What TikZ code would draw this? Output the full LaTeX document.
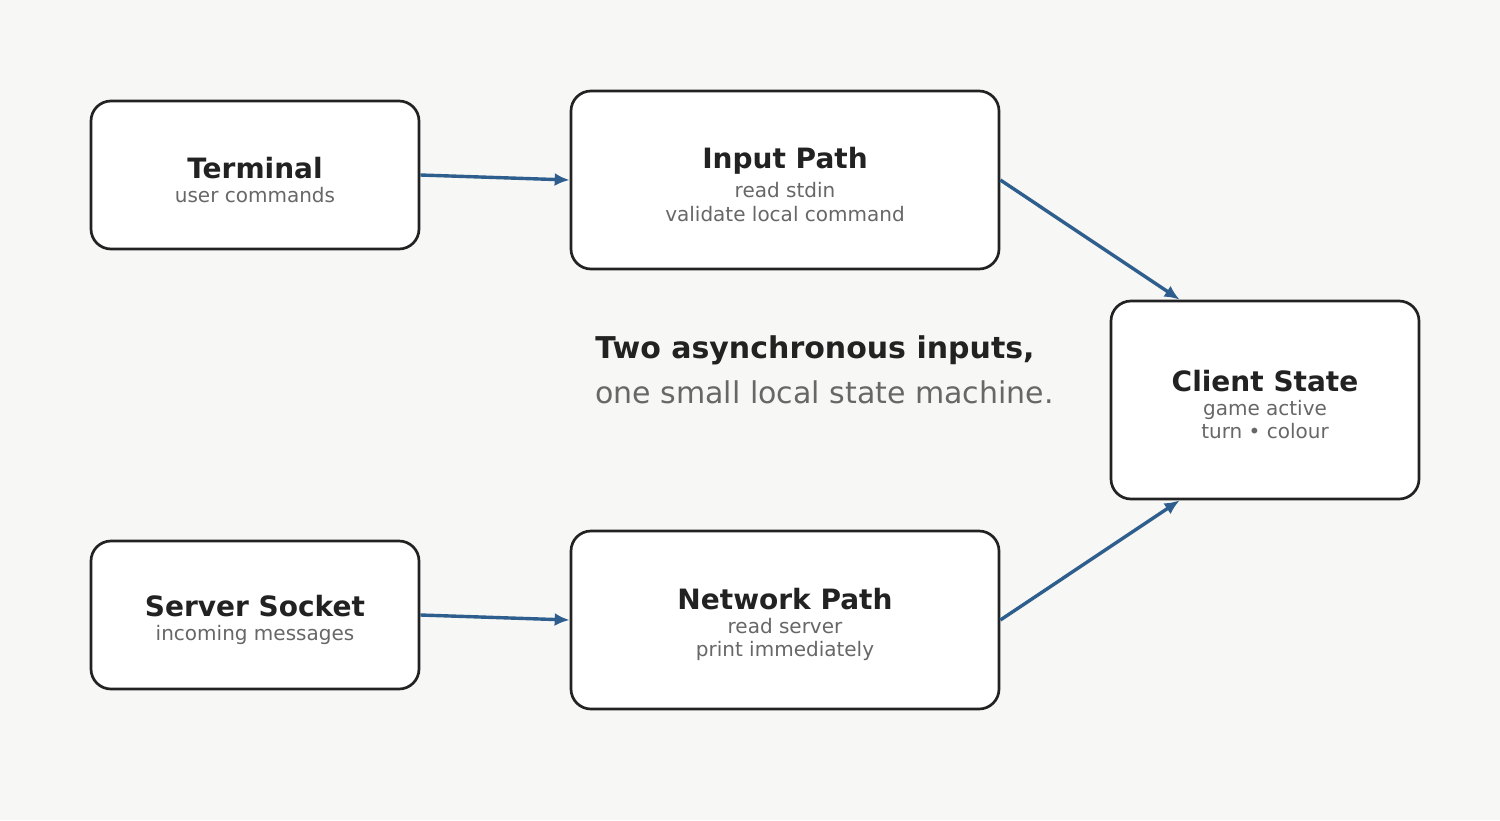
\documentclass[tikz,border=0pt]{standalone}
\usepackage{fontspec}
\setmainfont{DejaVu Sans}
\usetikzlibrary{arrows.meta}
\definecolor{bg}{HTML}{F7F7F5}
\definecolor{ink}{HTML}{222222}
\definecolor{sub}{HTML}{676767}
\definecolor{arr}{HTML}{2E5E8E}
\tikzset{
  box/.style={draw=ink, fill=white, line width=1.35pt, rounded corners=10pt, inner sep=0pt},
  ttl/.style={anchor=base, text=ink, font=\fontsize{14}{16}\selectfont\bfseries, inner sep=0pt},
  subt/.style={anchor=base, text=sub, font=\fontsize{10}{12}\selectfont, inner sep=0pt},
  flow/.style={draw=arr, line width=1.7pt, -{Latex[length=7.5pt,width=6.5pt]}}
}
\begin{document}
\begin{tikzpicture}[x=0.5pt,y=-0.5pt]
\fill[bg] (0,0) rectangle (1500,820);
\useasboundingbox (0,0) rectangle (1500,820);

\node[box, minimum width=164pt, minimum height=74pt] (term) at (255,175) {};
\node[box, minimum width=214pt, minimum height=89pt] (inp) at (785,180) {};
\node[box, minimum width=154pt, minimum height=99pt] (cs) at (1265,400) {};
\node[box, minimum width=164pt, minimum height=74pt] (srv) at (255,615) {};
\node[box, minimum width=214pt, minimum height=89pt] (net) at (785,620) {};

\node[ttl] (termT) at (255,178) {Terminal};
\node[subt] (termS) at (255,202) {user commands};

\node[ttl] (inpT) at (785,168) {Input Path};
\node[subt] (inpS1) at (785,197) {read stdin};
\node[subt] (inpS2) at (785,221) {validate local command};

\node[ttl] (csT) at (1265,391) {Client State};
\node[subt] (csS1) at (1265,415) {game active};
\node[subt] (csS2) at (1265,438) {turn • colour};

\node[ttl] (srvT) at (255,616) {Server Socket};
\node[subt] (srvS) at (255,640) {incoming messages};

\node[ttl] (netT) at (785,609) {Network Path};
\node[subt] (netS1) at (785,633) {read server};
\node[subt] (netS2) at (785,656) {print immediately};

\node[anchor=base west, inner sep=0pt, text=ink, font=\fontsize{15}{18}\selectfont\bfseries] (cap1) at (595,358) {Two asynchronous inputs,};
\node[anchor=base west, inner sep=0pt, text=sub, font=\fontsize{15}{18}\selectfont] (cap2) at (595,403) {one small local state machine.};

\draw[flow] (term.east) -- (inp.west);
\draw[flow] (srv.east) -- (net.west);
\draw[flow] (inp.east) -- ([xshift=35pt]cs.north west);
\draw[flow] (net.east) -- ([xshift=35pt]cs.south west);
\end{tikzpicture}
\end{document}
